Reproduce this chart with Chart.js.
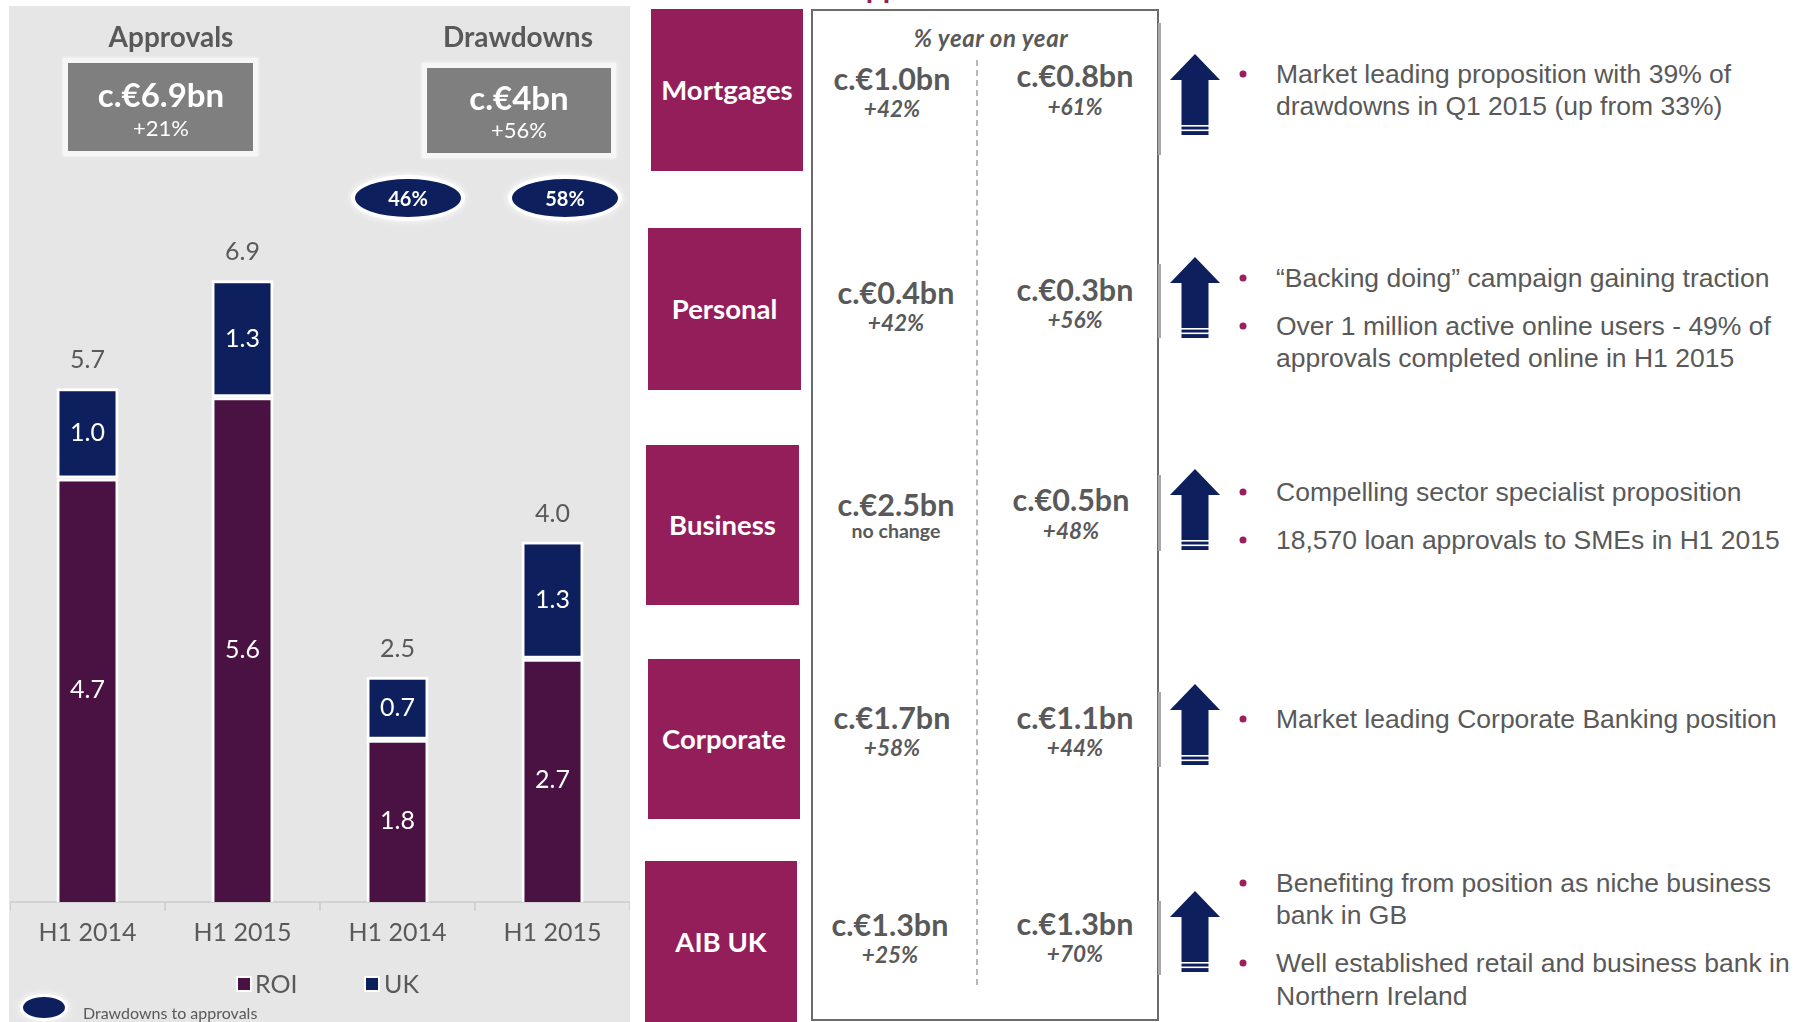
<!DOCTYPE html>
<html><head><meta charset="utf-8">
<script src="https://cdn.jsdelivr.net/npm/chart.js@4.4.0/dist/chart.umd.min.js"></script>
<style>
html,body{margin:0;padding:0;background:#fff;}
#page{position:relative;width:1807px;height:1022px;overflow:hidden;font-family:Lato,'Open Sans',sans-serif;}
.abs{position:absolute;white-space:nowrap;line-height:1;}
.c{transform:translate(-50%,-50%);}
.l{transform:translate(0,-50%);}
.n{transform:none;}
#panel{position:absolute;left:9px;top:6px;width:621px;height:1016px;background:#e6e6e6;}
#chartWrap{position:absolute;left:10px;top:6px;width:620px;height:1016px;}
.hdr{font-weight:700;font-size:28px;color:#595959;}
.kbox{position:absolute;background:#7f7f7f;border:5px solid #f6f6f6;box-sizing:border-box;box-shadow:0 0 3px #fff;}
.kval{font-weight:700;font-size:33px;color:#fff;}
.kpct{font-size:22px;color:#fff;}
.oval{position:absolute;background:#0d1f5c;border:4px solid #fff;border-radius:50%;box-sizing:border-box;box-shadow:0 0 5px 2px #f4f4f4;}
.ovaltxt{font-weight:700;font-size:20px;color:#fff;}
.seg{position:absolute;background:#931e5a;}
.segtxt{font-weight:700;font-size:27.5px;color:#fff;}
.val{font-weight:700;font-size:30.5px;color:#595959;}
.pct{font-weight:700;font-style:italic;font-size:22.5px;color:#595959;}
.hdrpct{font-weight:700;font-style:italic;font-size:24px;letter-spacing:0.6px;color:#595959;}
.small{font-weight:700;font-size:19.5px;color:#595959;}
.bul{font-family:'Liberation Sans',Arial,sans-serif;font-size:26.5px;color:#595959;}
.dot{position:absolute;width:7px;height:7px;border-radius:50%;background:#9b1f5f;transform:translate(-50%,-50%);}
.leg{font-size:25px;color:#595959;}
</style></head>
<body><div id="page">
<div id="panel"></div>
<div id="chartWrap"><canvas id="c" width="620" height="1016"></canvas></div>
</div>
<script>
// ---- data ----
const categories = ['H1 2014','H1 2015','H1 2014','H1 2015'];
const roiValues = [4.7, 5.6, 1.8, 2.7];
const ukValues = [1.0, 1.3, 0.7, 1.3];
const totals = [5.7, 6.9, 2.5, 4.0];
const groupTitles = ['Approvals','Drawdowns'];
const groupTotals = ['c.€6.9bn','c.€4bn'];
const groupGrowth = ['+21%','+56%'];
const drawdownRatios = ['46%','58%'];
const seriesNames = ['ROI','UK'];
const segments = ['Mortgages','Personal','Business','Corporate','AIB UK'];
const approvalValues = ['c.€1.0bn','c.€0.4bn','c.€2.5bn','c.€1.7bn','c.€1.3bn'];
const approvalGrowth = ['+42%','+42%','no change','+58%','+25%'];
const drawdownValues = ['c.€0.8bn','c.€0.3bn','c.€0.5bn','c.€1.1bn','c.€1.3bn'];
const drawdownGrowth = ['+61%','+56%','+48%','+44%','+70%'];
const bulletTexts = [
  [['Market leading proposition with 39% of','drawdowns in Q1 2015 (up from 33%)']],
  [['“Backing doing” campaign gaining traction'],['Over 1 million active online users - 49% of','approvals completed online in H1 2015']],
  [['Compelling sector specialist proposition'],['18,570 loan approvals to SMEs in H1 2015']],
  [['Market leading Corporate Banking position']],
  [['Benefiting from position as niche business','bank in GB'],['Well established retail and business bank in','Northern Ireland']]
];

// ---- layout (positions only) ----
const kboxLayout = [{x:63,y:58,w:195,h:98,cx:161,vy:94,py:128},{x:422,y:63,w:194,h:95,cx:519,vy:97,py:130}];
const titleLayout = [{x:171,y:36},{x:518,y:36}];
const ovalLayout = [{x:408,y:198},{x:565,y:198}];
const segLayout = [{x:651,y:9,w:152,h:162},{x:648,y:228,w:153,h:162},{x:646,y:445,w:153,h:160},{x:648,y:659,w:152,h:160},{x:645,y:861,w:152,h:161}];
const cellLayout = [
  {x1:892,v1:78,p1:109,x2:1075,v2:75,p2:107},
  {x1:896,v1:292,p1:323,x2:1075,v2:289,p2:320},
  {x1:896,v1:504,p1:531,x2:1071,v2:499,p2:531},
  {x1:892,v1:717,p1:748,x2:1075,v2:717,p2:748},
  {x1:890,v1:924,p1:955,x2:1075,v2:923,p2:954}
];
const arrowTops = [54,257,469,684,891];
const borderSegs = [[23,155],[264,338],[475,551],[692,767],[901,975]];
const bulletY = [[[74,106]],[[278],[326,358]],[[492],[540]],[[719]],[[883,915],[963,996]]];

const page = document.getElementById('page');
function txt(t, x, y, cls, anchor){
  const d=document.createElement('div');
  d.className='abs '+cls+' '+(anchor||'c');
  d.style.left=x+'px'; d.style.top=y+'px'; d.textContent=t; page.appendChild(d); return d;
}
function box(cls,x,y,w,h){
  const d=document.createElement('div'); d.className=cls;
  Object.assign(d.style,{left:x+'px',top:y+'px',width:w+'px',height:h+'px'});
  page.appendChild(d); return d;
}

// left panel decorations
groupTitles.forEach((t,i)=>txt(t,titleLayout[i].x,titleLayout[i].y,'hdr'));
groupTotals.forEach((t,i)=>{
  const L=kboxLayout[i];
  box('kbox',L.x,L.y,L.w,L.h);
  txt(t,L.cx,L.vy,'kval');
  txt(groupGrowth[i],L.cx,L.py,'kpct');
});
drawdownRatios.forEach((t,i)=>{
  const L=ovalLayout[i];
  box('oval',L.x-57,L.y-23,114,46);
  txt(t,L.x,L.y,'ovaltxt');
});
// legend
const legSq=[{x:236,tx:255},{x:364,tx:384}];
const legCol=['#4a1242','#0d1f5c'];
seriesNames.forEach((n,i)=>{
  const s=box('',legSq[i].x,976,12,12);
  s.style.position='absolute'; s.style.background=legCol[i]; s.style.border='2px solid #fff';
  txt(n,legSq[i].tx,983,'leg','l');
});
{ const o=box('oval',20,994,48,27); o.style.borderWidth='3px'; }
txt('Drawdowns to approvals',83,1013,'','l').style.cssText+=';font-size:16px;color:#595959;';

// middle table
txt('Approvals',845,-29,'','n').style.cssText+=';font-weight:700;font-size:30px;line-height:30px;color:#931e5a;';
{ const tb=box('',811,9,348,1012); tb.style.position='absolute'; tb.style.border='2px solid #6b6b6b'; tb.style.boxSizing='border-box'; tb.style.background='#fff'; }
{ const dl=box('',976,60,0,925); dl.style.position='absolute'; dl.style.borderLeft='2px dashed #b8b8b8'; }
borderSegs.forEach(s=>{ const b=box('',1158,s[0],3,s[1]-s[0]); b.style.position='absolute'; b.style.background='#a8a8a8'; });
txt('% year on year',991,38,'hdrpct');
segments.forEach((s,i)=>{
  const L=segLayout[i];
  box('seg',L.x,L.y,L.w,L.h);
  txt(s,L.x+L.w/2,L.y+L.h/2,'segtxt');
  const C=cellLayout[i];
  txt(approvalValues[i],C.x1,C.v1,'val');
  txt(approvalGrowth[i],C.x1,C.p1,approvalGrowth[i].startsWith('+')?'pct':'small');
  txt(drawdownValues[i],C.x2,C.v2,'val');
  txt(drawdownGrowth[i],C.x2,C.p2,'pct');
  // arrow
  const ns='http://www.w3.org/2000/svg';
  const svg=document.createElementNS(ns,'svg');
  svg.setAttribute('width','52'); svg.setAttribute('height','81');
  svg.style.position='absolute'; svg.style.left=(1195-26)+'px'; svg.style.top=arrowTops[i]+'px';
  svg.innerHTML='<polygon points="26,0 51,26 39.5,26 39.5,81 12.5,81 12.5,26 1,26" fill="#0d1f5c"/>'+
    '<rect x="12" y="71" width="28" height="1.6" fill="#fff"/><rect x="12" y="75.5" width="28" height="1.6" fill="#fff"/>';
  page.appendChild(svg);
  // bullets
  bulletTexts[i].forEach((b,k)=>{
    const ys=bulletY[i][k];
    box('dot',1243,ys[0],7,7);
    b.forEach((line,m)=>txt(line,1276,ys[m],'bul','l'));
  });
});

// ---- chart ----
const barLabels={
  id:'barLabels',
  afterDatasetsDraw(chart){
    const ctx=chart.ctx; ctx.save();
    ctx.textAlign='center'; ctx.textBaseline='middle';
    ctx.font='25px Lato';
    chart.data.datasets.forEach((ds,i)=>{
      chart.getDatasetMeta(i).data.forEach((bar,j)=>{
        ctx.fillStyle='#ffffff';
        ctx.fillText(ds.data[j].toFixed(1), bar.x, (bar.y+bar.base)/2);
      });
    });
    const topMeta=chart.getDatasetMeta(chart.data.datasets.length-1);
    topMeta.data.forEach((bar,j)=>{
      ctx.fillStyle='#595959';
      ctx.fillText(totals[j].toFixed(1), bar.x, bar.y-28);
    });
    ctx.restore();
  }
};
function draw(){
  new Chart(document.getElementById('c'),{
    type:'bar',
    data:{labels:categories,datasets:[
      {label:seriesNames[0],data:roiValues,backgroundColor:'#4a1242',borderColor:'#ffffff',borderWidth:3,borderSkipped:'start',barPercentage:0.4,categoryPercentage:1},
      {label:seriesNames[1],data:ukValues,backgroundColor:'#0d1f5c',borderColor:'#ffffff',borderWidth:3,borderSkipped:false,barPercentage:0.4,categoryPercentage:1}
    ]},
    options:{
      responsive:false,animation:false,
      layout:{padding:{top:175,left:0,right:0,bottom:0}},
      plugins:{legend:{display:false},tooltip:{enabled:false}},
      scales:{
        x:{stacked:true,offset:true,
          grid:{display:true,drawOnChartArea:false,drawTicks:true,tickLength:9,color:'#d2d2d2',lineWidth:2,offset:true},
          border:{display:true,color:'#d2d2d2',width:2},
          ticks:{color:'#595959',font:{family:'Lato',size:25},padding:7},
          afterFit(s){s.height=120;}
        },
        y:{stacked:true,display:false,min:0,max:8}
      }
    },
    plugins:[barLabels]
  });
}
Promise.all([document.fonts.load('24px Lato'),document.fonts.load('bold 24px Lato')]).then(draw,draw);
</script>
</body></html>
